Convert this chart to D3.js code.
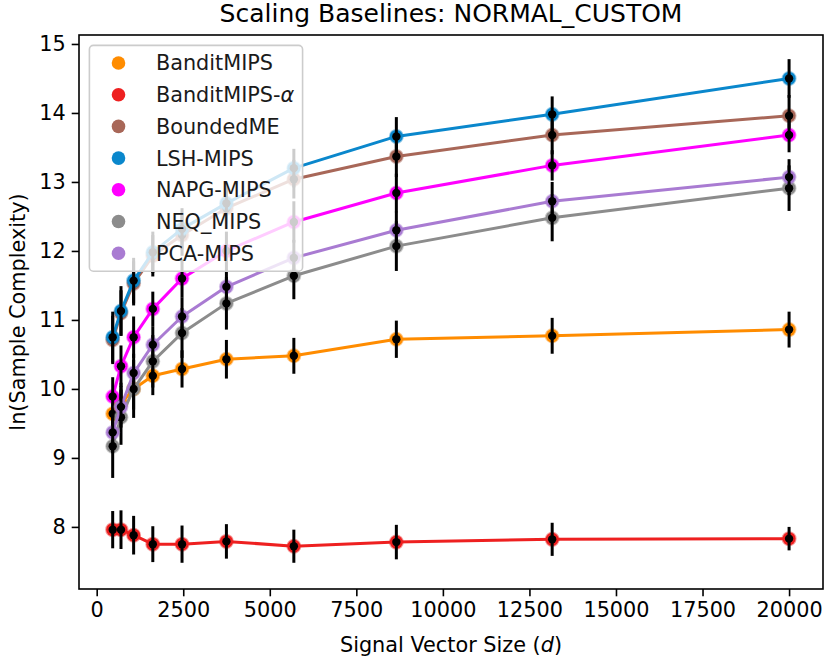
<!DOCTYPE html>
<html>
<head>
<meta charset="utf-8">
<script src="https://cdn.jsdelivr.net/npm/d3@7"></script>
<style>
  html, body { margin: 0; padding: 0; background: #ffffff; }
  svg { display: block; font-family: "DejaVu Sans", sans-serif; }
</style>
</head>
<body>
<svg id="chart" width="830" height="662"></svg>
<script>
// ---- data ----
const xValues = [462, 702, 1067, 1621, 2465, 3747, 5695, 8656, 13157, 20000];
const seriesNames = ["BanditMIPS", "BanditMIPS-α", "BoundedME", "LSH-MIPS", "NAPG-MIPS", "NEQ_MIPS", "PCA-MIPS"];
const seriesColors = ["#ff8c00", "#ee2020", "#a86758", "#0a87cc", "#ff00ff", "#8c8c8c", "#a97bd2"];

const banditMips     = [9.64, 9.79, 10.00, 10.19, 10.29, 10.43, 10.48, 10.72, 10.77, 10.86];
const banditMipsErr  = [0.30, 0.30, 0.30, 0.28, 0.27, 0.28, 0.26, 0.27, 0.26, 0.26];
const banditAlpha    = [7.96, 7.96, 7.88, 7.75, 7.75, 7.79, 7.72, 7.78, 7.82, 7.83];
const banditAlphaErr = [0.27, 0.28, 0.28, 0.26, 0.27, 0.25, 0.24, 0.25, 0.24, 0.17];
const boundedMe      = [10.71, 11.10, 11.53, 11.93, 12.23, 12.62, 13.04, 13.37, 13.68, 13.96];
const boundedMeErr   = [0.35, 0.33, 0.32, 0.30, 0.30, 0.30, 0.28, 0.30, 0.28, 0.30];
const lshMips        = [10.75, 11.13, 11.57, 11.98, 12.32, 12.69, 13.20, 13.66, 13.98, 14.50];
const lshMipsErr     = [0.37, 0.36, 0.33, 0.30, 0.30, 0.30, 0.28, 0.28, 0.26, 0.28];
const napgMips       = [9.89, 10.33, 10.75, 11.16, 11.60, 12.00, 12.42, 12.84, 13.24, 13.68];
const napgMipsErr    = [0.28, 0.30, 0.30, 0.25, 0.28, 0.28, 0.30, 0.28, 0.22, 0.25];
const neqMips        = [9.17, 9.59, 10.00, 10.40, 10.81, 11.24, 11.64, 12.07, 12.48, 12.91];
const neqMipsErr     = [0.46, 0.40, 0.42, 0.38, 0.36, 0.38, 0.34, 0.36, 0.34, 0.33];
const pcaMips        = [9.37, 9.74, 10.23, 10.64, 11.05, 11.48, 11.90, 12.30, 12.72, 13.07];
const pcaMipsErr     = [0.30, 0.30, 0.28, 0.27, 0.27, 0.25, 0.26, 0.27, 0.28, 0.26];

const seriesValues = [banditMips, banditAlpha, boundedMe, lshMips, napgMips, neqMips, pcaMips];
const seriesErrors = [banditMipsErr, banditAlphaErr, boundedMeErr, lshMipsErr, napgMipsErr, neqMipsErr, pcaMipsErr];

const xTicks = [0, 2500, 5000, 7500, 10000, 12500, 15000, 17500, 20000];
const yTicks = [8, 9, 10, 11, 12, 13, 14, 15];
const titleText = "Scaling Baselines: NORMAL_CUSTOM";
const yLabelText = "ln(Sample Complexity)";

// ---- layout ----
const svg = d3.select("#chart");
const L = 79, R = 823, T = 35, B = 589;
const FS = 20.8;

const x = d3.scaleLinear().domain([-511, 20980]).range([L, R]);
const y = d3.scaleLinear().domain([7.10, 15.13]).range([B, T]);

const plot = svg.append("g");
const clipId = "clipPlot";
svg.append("defs").append("clipPath").attr("id", clipId)
  .append("rect").attr("x", L).attr("y", T).attr("width", R - L).attr("height", B - T);

// series
seriesNames.forEach((name, i) => {
  const vals = seriesValues[i];
  const errs = seriesErrors[i];
  const pts = xValues.map((xv, j) => ({x: xv, y: vals[j], e: errs[j]}));
  const g = plot.append("g").attr("clip-path", `url(#${clipId})`);
  const line = d3.line().x(d => x(d.x)).y(d => y(d.y));
  g.append("path").datum(pts)
    .attr("d", line)
    .attr("fill", "none")
    .attr("stroke", seriesColors[i])
    .attr("stroke-width", 3)
    .attr("stroke-linejoin", "round");
  g.selectAll("circle.mk").data(pts).enter().append("circle")
    .attr("class", "mk")
    .attr("cx", d => x(d.x)).attr("cy", d => y(d.y))
    .attr("r", 6.5)
    .attr("fill", seriesColors[i])
    .attr("stroke", seriesColors[i])
    .attr("stroke-opacity", 0.45)
    .attr("stroke-width", 2);
  g.selectAll("line.eb").data(pts).enter().append("line")
    .attr("class", "eb")
    .attr("x1", d => x(d.x)).attr("x2", d => x(d.x))
    .attr("y1", d => y(d.y - d.e)).attr("y2", d => y(d.y + d.e))
    .attr("stroke", "#000").attr("stroke-width", 3);
  g.selectAll("circle.bk").data(pts).enter().append("circle")
    .attr("class", "bk")
    .attr("cx", d => x(d.x)).attr("cy", d => y(d.y))
    .attr("r", 4.2)
    .attr("fill", "#000");
});

// axes
const xAxis = d3.axisBottom(x).tickValues(xTicks).tickFormat(d3.format("d")).tickSize(7.3).tickPadding(6);
const yAxis = d3.axisLeft(y).tickValues(yTicks).tickFormat(d3.format("d")).tickSize(7.3).tickPadding(6);

const gx = svg.append("g").attr("transform", `translate(0,${B})`).call(xAxis);
const gy = svg.append("g").attr("transform", `translate(${L},0)`).call(yAxis);
[gx, gy].forEach(g => {
  g.select(".domain").remove();
  g.selectAll(".tick line").attr("stroke", "#000").attr("stroke-width", 1.6);
  g.selectAll(".tick text").attr("fill", "#000").attr("font-size", FS).attr("font-family", "DejaVu Sans");
});

// frame
svg.append("rect").attr("x", L).attr("y", T).attr("width", R - L).attr("height", B - T)
  .attr("fill", "none").attr("stroke", "#000").attr("stroke-width", 1.6);

// title
svg.append("text").attr("x", (L + R) / 2).attr("y", 22)
  .attr("text-anchor", "middle").attr("font-size", 25).attr("fill", "#000")
  .text(titleText);

// x label
const xl = svg.append("text").attr("x", (L + R) / 2).attr("y", 652)
  .attr("text-anchor", "middle").attr("font-size", FS).attr("fill", "#000");
xl.append("tspan").text("Signal Vector Size (");
xl.append("tspan").attr("font-style", "italic").text("d");
xl.append("tspan").text(")");

// y label
svg.append("text").attr("transform", `translate(25,${(T + B) / 2}) rotate(-90)`)
  .attr("text-anchor", "middle").attr("font-size", FS).attr("fill", "#000")
  .text(yLabelText);

// legend
const lg = svg.append("g");
const lgX = L + 10.4, lgY = T + 10.4;
const pad = 8.3, handleLen = 41.6, handlePad = 16.6, rowH = 31.7;
const box = lg.append("rect");
const items = lg.append("g");
let maxW = 0;
seriesNames.forEach((name, i) => {
  const cy = lgY + pad + 9.3 + i * rowH;
  items.append("circle").attr("cx", lgX + pad + handleLen / 2).attr("cy", cy)
    .attr("r", 6.8).attr("fill", seriesColors[i]);
  const t = items.append("text").attr("x", lgX + pad + handleLen + handlePad).attr("y", cy + 7.4)
    .attr("font-size", FS).attr("fill", "#1a1a1a");
  if (name.endsWith("α")) {
    t.append("tspan").text(name.slice(0, -1));
    t.append("tspan").attr("font-style", "italic").text("α");
  } else {
    t.text(name);
  }
  maxW = Math.max(maxW, t.node().getComputedTextLength());
});
const boxW = pad + handleLen + handlePad + maxW + pad;
const boxH = pad + 6 * rowH + 20 + pad - 1;
box.attr("x", lgX).attr("y", lgY).attr("width", boxW).attr("height", boxH)
  .attr("rx", 4).attr("ry", 4)
  .attr("fill", "#ffffff").attr("fill-opacity", 0.8)
  .attr("stroke", "#cccccc").attr("stroke-width", 1.6);
</script>
</body>
</html>
